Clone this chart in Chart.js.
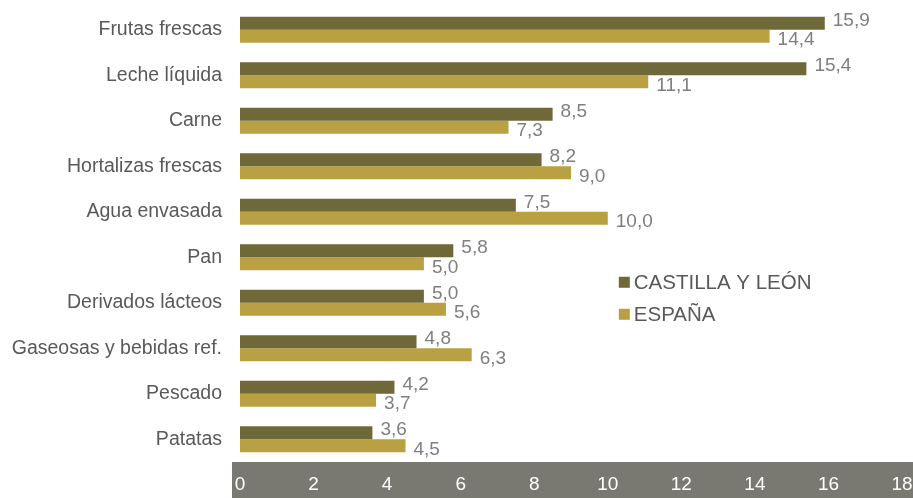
<!DOCTYPE html>
<html>
<head>
<meta charset="utf-8">
<script src="https://cdn.jsdelivr.net/npm/chart.js@4"></script>
<style>
  body { margin: 0; background: #fff; }
  #wrap { width: 913px; height: 498px; }
</style>
</head>
<body>
<div id="wrap"><canvas id="chart"></canvas></div>
<script>
const categories = ['Frutas frescas', 'Leche líquida', 'Carne', 'Hortalizas frescas', 'Agua envasada',
  'Pan', 'Derivados lácteos', 'Gaseosas y bebidas ref.', 'Pescado', 'Patatas'];
const castillaLeon = [15.9, 15.4, 8.5, 8.2, 7.5, 5.8, 5.0, 4.8, 4.2, 3.6];
const espana = [14.4, 11.1, 7.3, 9.0, 10.0, 5.0, 5.6, 6.3, 3.7, 4.5];
const seriesNames = ['CASTILLA Y LEÓN', 'ESPAÑA'];
const xTicks = [0, 2, 4, 6, 8, 10, 12, 14, 16, 18];

const darkColor = '#6f6839';
const goldColor = '#b9a042';
const textGray = '#595959';
const labelGray = '#7f7f7f';
const baseFont = '"Liberation Sans", Arial, sans-serif';

// gray band behind the x axis
const axisBand = {
  id: 'axisBand',
  beforeDraw(chart) {
    const { ctx, chartArea } = chart;
    ctx.save();
    ctx.fillStyle = '#797972';
    ctx.fillRect(chartArea.left - 8, chartArea.bottom, chart.width - chartArea.left + 8, chart.height - chartArea.bottom);
    ctx.restore();
  }
};

// value labels next to each bar
const valueLabels = {
  id: 'valueLabels',
  afterDatasetsDraw(chart) {
    const { ctx } = chart;
    ctx.save();
    ctx.font = '19px ' + baseFont;
    ctx.fillStyle = labelGray;
    ctx.textAlign = 'left';
    ctx.textBaseline = 'middle';
    chart.data.datasets.forEach((ds, i) => {
      const meta = chart.getDatasetMeta(i);
      const dy = i === 0 ? -3 : 4;
      meta.data.forEach((bar, j) => {
        ctx.fillText(ds.data[j].toFixed(1).replace('.', ','), bar.x + 8, bar.y + dy);
      });
    });
    ctx.restore();
  }
};

// legend inside the plot
const innerLegend = {
  id: 'innerLegend',
  afterDraw(chart) {
    const { ctx } = chart;
    const x = chart.scales.x.getPixelForValue(10.3);
    const y0 = chart.scales.y.getPixelForValue(5.55);
    ctx.save();
    ctx.font = '20.5px ' + baseFont;
    ctx.textBaseline = 'middle';
    chart.data.datasets.forEach((ds, i) => {
      const y = y0 + i * 32;
      ctx.fillStyle = ds.backgroundColor;
      ctx.fillRect(x, y - 5.5, 11, 11);
      ctx.fillStyle = textGray;
      ctx.fillText(seriesNames[i], x + 15, y + 1);
    });
    ctx.restore();
  }
};

new Chart(document.getElementById('chart'), {
  type: 'bar',
  data: {
    labels: categories,
    datasets: [
      { label: seriesNames[0], data: castillaLeon, backgroundColor: darkColor },
      { label: seriesNames[1], data: espana, backgroundColor: goldColor }
    ]
  },
  options: {
    indexAxis: 'y',
    responsive: true,
    maintainAspectRatio: false,
    animation: false,
    layout: { padding: { top: 7, right: 11, left: 0, bottom: 0 } },
    datasets: { bar: { categoryPercentage: 0.57, barPercentage: 1.0 } },
    plugins: { legend: { display: false }, tooltip: { enabled: false } },
    scales: {
      x: {
        min: 0, max: 18,
        afterBuildTicks: axis => { axis.ticks = xTicks.map(v => ({ value: v })); },
        afterFit: axis => { axis.height = 36; axis.paddingLeft = 0; axis.paddingRight = 0; },
        grid: { display: false, drawTicks: false },
        border: { display: false },
        ticks: {
          color: '#ffffff',
          padding: 11,
          maxRotation: 0,
          font: { family: baseFont, size: 19 }
        }
      },
      y: {
        afterFit: axis => { axis.width = 240; axis.paddingTop = 0; axis.paddingBottom = 0; },
        grid: { display: false, drawTicks: false },
        border: { display: false },
        ticks: {
          color: textGray,
          padding: 18,
          font: { family: baseFont, size: 19.5 }
        }
      }
    }
  },
  plugins: [axisBand, valueLabels, innerLegend]
});
</script>
</body>
</html>
